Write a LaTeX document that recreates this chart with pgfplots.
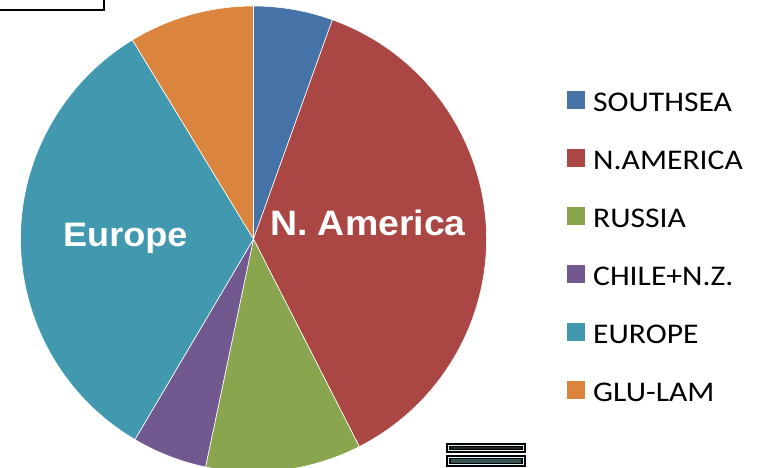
\documentclass[border=0pt]{standalone}
\usepackage{fontspec}
\usepackage{pgfplots}
\usepackage{pgfplotstable}
\pgfplotsset{compat=1.18}
\newfontfamily\legfont[FakeStretch=1.11]{Carlito}
\newfontfamily\labfont[FakeStretch=1.06]{Liberation Sans}
\definecolor{pc0}{HTML}{4572A7}
\definecolor{pc1}{HTML}{AA4643}
\definecolor{pc2}{HTML}{89A54E}
\definecolor{pc3}{HTML}{71588F}
\definecolor{pc4}{HTML}{4198AF}
\definecolor{pc5}{HTML}{DB843D}
\pgfplotstableread{
name value
SOUTHSEA 5.5
N.AMERICA 37.0
RUSSIA 10.8
CHILE+N.Z. 5.2
EUROPE 32.8
GLU-LAM 8.7
}\piedata
\pgfplotsset{legsq/.style={draw=none, legend image code/.code={\fill (0bp,-8bp) rectangle (18bp,10bp);}}}
\begin{document}
\begin{tikzpicture}
\gdef\cum{0}
\foreach \i in {0,...,5}{%
  \pgfplotstablegetelem{\i}{value}\of\piedata
  \pgfmathsetmacro\e{\cum+\pgfplotsretval}%
  \expandafter\xdef\csname pieS\i\endcsname{\cum}%
  \expandafter\xdef\csname pieE\i\endcsname{\e}%
  \xdef\cum{\e}}
\begin{axis}[scale only axis, width=759bp, height=468bp,
  xmin=0, xmax=759, ymin=0, ymax=468, y dir=reverse,
  hide axis, clip=false,
  legend style={at={(axis description cs:0.747,0.8056)}, anchor=north west,
    draw=none, fill=none, inner sep=0pt, font=\legfont\fontsize{28.5bp}{30bp}\selectfont,
    nodes={inner sep=0pt, text height=20bp, text depth=0bp},
    row sep=38bp, column sep=8bp},
  legend cell align=left]
\pgfplotsinvokeforeach{0,...,5}{%
  \fill[pc#1, draw=white, line width=0.6pt] (axis cs:253.5,239) -- ++({90-3.6*\csname pieS#1\endcsname}:233bp)
    arc[start angle={90-3.6*\csname pieS#1\endcsname}, end angle={90-3.6*\csname pieE#1\endcsname}, radius=233bp] -- cycle;
}
\addlegendimage{legsq, fill=pc0}\addlegendentry{SOUTHSEA}
\addlegendimage{legsq, fill=pc1}\addlegendentry{N.AMERICA}
\addlegendimage{legsq, fill=pc2}\addlegendentry{RUSSIA}
\addlegendimage{legsq, fill=pc3}\addlegendentry{CHILE+N.Z.}
\addlegendimage{legsq, fill=pc4}\addlegendentry{EUROPE}
\addlegendimage{legsq, fill=pc5}\addlegendentry{GLU-LAM}
\node[anchor=base west, inner sep=0pt, text=white, font=\labfont\bfseries\fontsize{35.3bp}{37bp}\selectfont] at (axis cs:270,235) {N. America};
\node[anchor=base west, inner sep=0pt, text=white, font=\labfont\bfseries\fontsize{34bp}{36bp}\selectfont] at (axis cs:63,246) {Europe};
\draw[line width=1.5bp] (axis cs:-3,-3) rectangle (axis cs:104,10);
\fill[black] (axis cs:446,443) rectangle (axis cs:526,453);
\draw[cyan!15, line width=1bp] (axis cs:448.5,445.5) rectangle (axis cs:523.5,450.5);
\draw[black!85, line width=1.2bp] (axis cs:451,448) -- (axis cs:521,448);
\fill[black] (axis cs:446,455) rectangle (axis cs:526,467);
\draw[cyan!15, line width=1bp] (axis cs:448.5,457.5) rectangle (axis cs:523.5,464.5);
\fill[black!60!teal!60!gray] (axis cs:451,459) rectangle (axis cs:521,463);
\end{axis}
\pgfresetboundingbox
\path[use as bounding box] (0,0) rectangle (759bp,468bp);
\end{tikzpicture}
\end{document}
